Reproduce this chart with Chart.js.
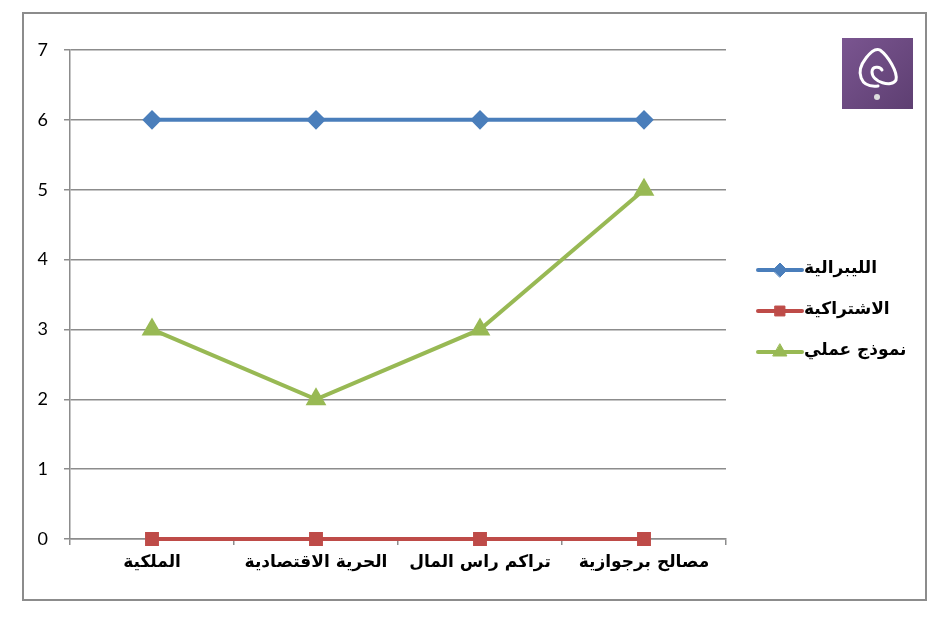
<!DOCTYPE html>
<html>
<head>
<meta charset="utf-8">
<script src="https://cdn.jsdelivr.net/npm/chart.js@4.4.0/dist/chart.umd.min.js"></script>
<style>
  html, body { margin: 0; padding: 0; background: #fff; }
  #wrap { width: 948px; height: 624px; position: relative; }
</style>
</head>
<body>
<div id="wrap"><canvas id="lineChart"></canvas></div>
<script>
// Chart data
const categories = ['الملكية', 'الحرية الاقتصادية', 'تراكم راس المال', 'مصالح برجوازية'];
const liberalValues = [6, 6, 6, 6];
const socialistValues = [0, 0, 0, 0];
const practicalValues = [3, 2, 3, 5];
const seriesNames = ['الليبرالية', 'الاشتراكية', 'نموذج عملي'];
const yTicks = [0, 1, 2, 3, 4, 5, 6, 7];

const colors = ['#4a7ebb', '#be4b48', '#98b954'];
const markers = ['rectRot', 'rect', 'triangle'];

// frame, logo and legend drawn by hand
const decorPlugin = {
    id: 'decor',
    beforeDraw(chart) {
        const ctx = chart.ctx;
        ctx.save();
        ctx.fillStyle = '#fff';
        ctx.fillRect(0, 0, chart.width, chart.height);
        ctx.strokeStyle = '#8c8c8c';
        ctx.lineWidth = 2;
        ctx.strokeRect(23, 13, 903, 587);
        ctx.restore();
    },
    afterDraw(chart) {
        const ctx = chart.ctx;
        ctx.save();
        // logo
        const grad = ctx.createLinearGradient(842, 38, 912, 108);
        grad.addColorStop(0, '#7a5590');
        grad.addColorStop(1, '#5e3f72');
        ctx.fillStyle = grad;
        ctx.fillRect(842, 38, 71, 71);
        ctx.strokeStyle = '#fff';
        ctx.lineWidth = 3;
        ctx.lineCap = 'round';
        ctx.beginPath();
        ctx.moveTo(878, 86);
        ctx.bezierCurveTo(860, 88, 855, 72, 866, 58);
        ctx.bezierCurveTo(872, 50, 876, 48, 880, 50);
        ctx.bezierCurveTo(888, 56, 898, 72, 896, 80);
        ctx.bezierCurveTo(892, 88, 872, 82, 872, 72);
        ctx.bezierCurveTo(872, 66, 880, 66, 882, 70);
        ctx.stroke();
        ctx.fillStyle = '#ddd';
        ctx.beginPath();
        ctx.arc(877, 97, 3, 0, Math.PI * 2);
        ctx.fill();

        // legend
        const rows = [270, 311, 352];
        chart.data.datasets.forEach(function(ds, i) {
            const y = rows[i];
            ctx.strokeStyle = ds.borderColor;
            ctx.fillStyle = ds.borderColor;
            ctx.lineWidth = 4;
            ctx.beginPath();
            ctx.moveTo(758, y);
            ctx.lineTo(802, y);
            ctx.stroke();
            ctx.lineWidth = 1;
            Chart.helpers.drawPoint(ctx, {
                pointStyle: ds.pointStyle,
                radius: ds.pointRadius,
                borderWidth: 1
            }, 780, y);
            ctx.fillStyle = '#000';
            ctx.font = 'bold 17px "DejaVu Sans"';
            ctx.textAlign = 'left';
            ctx.textBaseline = 'middle';
            ctx.fillText(ds.label, 804, y - 1);
        });
        ctx.restore();
    }
};

function makeDataset(i, values) {
    return {
        label: seriesNames[i],
        data: values,
        borderColor: colors[i],
        backgroundColor: colors[i],
        pointBackgroundColor: colors[i],
        pointBorderColor: colors[i],
        pointStyle: markers[i],
        pointRadius: i === 2 ? 8 : 7,
        borderWidth: 4,
        tension: 0,
        clip: false
    };
}

document.addEventListener('DOMContentLoaded', function() {
    const ctx = document.getElementById('lineChart').getContext('2d');
    new Chart(ctx, {
        type: 'line',
        data: {
            labels: categories,
            datasets: [
                makeDataset(0, liberalValues),
                makeDataset(1, socialistValues),
                makeDataset(2, practicalValues)
            ]
        },
        plugins: [decorPlugin],
        options: {
            responsive: true,
            maintainAspectRatio: false,
            animation: false,
            layout: { padding: { left: 0, top: 50, right: 222, bottom: 0 } },
            plugins: { legend: { display: false }, tooltip: { enabled: false } },
            scales: {
                x: {
                    offset: true,
                    grid: {
                        offset: true,
                        drawOnChartArea: false,
                        drawTicks: true,
                        tickLength: 6,
                        color: '#8c8c8c',
                        lineWidth: 1.5
                    },
                    border: { color: '#8c8c8c', width: 1.5 },
                    ticks: {
                        color: '#000',
                        padding: 7,
                        maxRotation: 0,
                        font: { family: '"DejaVu Sans"', size: 17, weight: 'bold' }
                    },
                    afterFit: function(scale) { scale.height = 85; }
                },
                y: {
                    min: 0,
                    max: 7,
                    afterBuildTicks: function(scale) {
                        scale.ticks = yTicks.map(function(v) { return { value: v }; });
                    },
                    grid: {
                        color: '#8c8c8c',
                        lineWidth: 1.5,
                        tickLength: 6
                    },
                    border: { color: '#8c8c8c', width: 1.5 },
                    ticks: {
                        color: '#000',
                        padding: 16,
                        font: { family: 'Lato', size: 18 }
                    },
                    afterFit: function(scale) { scale.width = 70; }
                }
            }
        }
    });
});
</script>
</body>
</html>
